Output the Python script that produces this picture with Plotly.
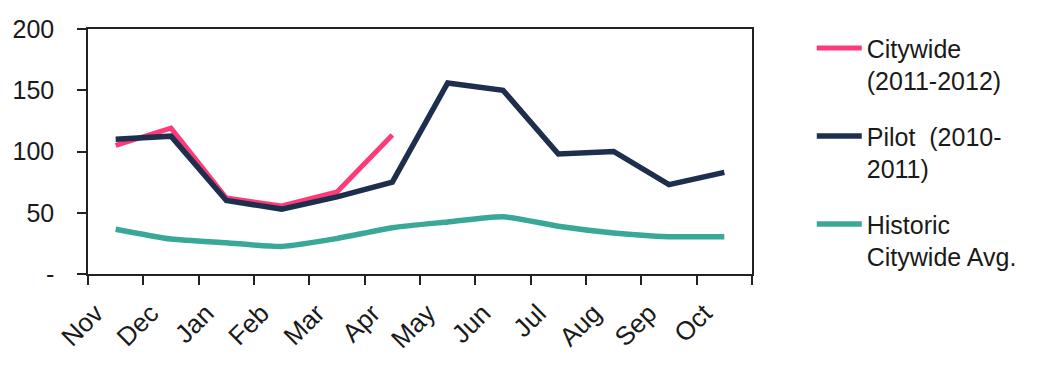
import plotly.graph_objects as go

months = ["Nov", "Dec", "Jan", "Feb", "Mar", "Apr", "May", "Jun", "Jul", "Aug", "Sep", "Oct"]
citywide = [105, 119, 62, 55.5, 67, 113.5]
pilot = [110, 112.5, 60, 53, 63, 75, 156, 150, 98, 100, 73, 83]
historic = [36.5, 28.5, 25.5, 22.5, 29, 37.8, 42.5, 46.8, 39, 33.5, 30.5, 30.5]

y_tickvals = [0, 50, 100, 150, 200]
y_ticktext = ["-", "50", "100", "150", "200"]

FONT = "Liberation Sans, Arial, sans-serif"

fig = go.Figure()
fig.add_trace(go.Scatter(x=months[:len(citywide)], y=citywide, mode="lines",
                         name="Citywide<br>(2011-2012)", legendgroup="a",
                         line=dict(color="#FF3A78", width=5)))
fig.add_trace(go.Scatter(x=months, y=pilot, mode="lines",
                         name="Pilot  (2010-<br>2011)", legendgroup="b",
                         line=dict(color="#1E2F4E", width=5.5)))
fig.add_trace(go.Scatter(x=months, y=historic, mode="lines",
                         name="Historic<br>Citywide Avg.", legendgroup="c",
                         line=dict(color="#3AA898", width=5.5, shape="spline", smoothing=0.6)))

fig.update_layout(
    width=1037, height=371,
    margin=dict(l=88, r=285, t=29, b=97, autoexpand=False),
    paper_bgcolor="white", plot_bgcolor="white",
    font=dict(family=FONT, color="#1a1a1a"),
    showlegend=True,
    legend=dict(x=1.09, y=1.015, xanchor="left", yanchor="top",
                font=dict(size=25, family=FONT, color="#1a1a1a"),
                valign="top", tracegroupgap=20, bgcolor="rgba(0,0,0,0)",
                itemwidth=45, maxheight=360),
)
fig.update_xaxes(
    type="category", categoryorder="array", categoryarray=months,
    range=[-0.5, 11.5], tickson="boundaries", automargin=False,
    ticks="outside", ticklen=9, tickcolor="#222", tickwidth=1.5,
    showline=True, linecolor="#222", linewidth=1.5, mirror=True,
    showgrid=False, tickangle=-45,
    ticklabelshift=-20, ticklabelstandoff=12,
    tickfont=dict(size=26, family=FONT, color="#1a1a1a"),
)
fig.update_yaxes(
    range=[0, 200], tickvals=y_tickvals, ticktext=y_ticktext, automargin=False,
    ticks="outside", ticklen=9, tickcolor="#222", tickwidth=1.5,
    showline=True, linecolor="#222", linewidth=1.5, mirror=True,
    showgrid=False, zeroline=False,
    tickfont=dict(size=25, family=FONT, color="#1a1a1a"),
    ticklabelstandoff=18,
)

fig.write_html("out.html")
